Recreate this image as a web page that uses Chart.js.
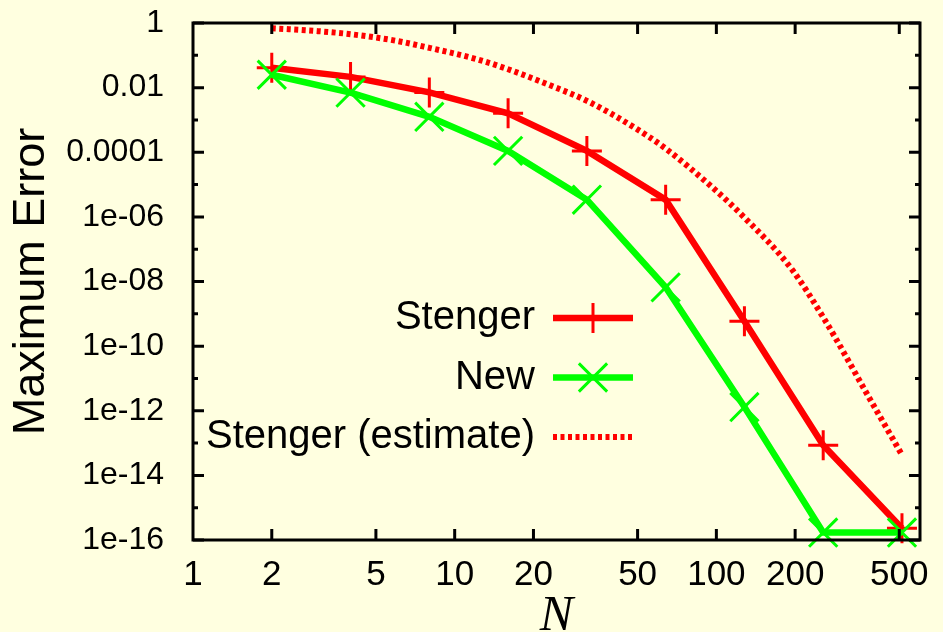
<!DOCTYPE html>
<html>
<head>
<meta charset="utf-8">
<script src="https://cdn.jsdelivr.net/npm/chart.js@4.4.1/dist/chart.umd.min.js"></script>
<style>
  html, body { margin: 0; padding: 0; background: #ffffe0; }
</style>
</head>
<body>
<canvas id="error-chart" width="943" height="632"></canvas>
<script>
// values
const nValues = [2, 4, 8, 16, 32, 64, 128, 256, 512];
const stengerError = [0.041, 0.0215, 0.0071, 0.0016, 1.1e-4, 3.4e-6, 5.9e-10, 8.5e-14, 2.3e-16];
const newError = [0.025, 0.007, 1.25e-3, 1.1e-4, 3.4e-6, 6.6e-9, 1.3e-12, 1.7e-16, 1.7e-16];
const estimateN = [2, 3, 4, 6, 8, 12, 16, 24, 32, 48, 64, 96, 128, 192, 256, 384, 512];
const estimateError = [0.69, 0.56, 0.45, 0.28, 0.17, 0.078, 0.037, 0.0105, 0.0039, 6.2e-4, 1.3e-4,
                       8.5e-6, 9.5e-7, 2.7e-8, 7.8e-10, 2.5e-12, 4.3e-14];

const xTicks = [1, 2, 5, 10, 20, 50, 100, 200, 500];
const yTicks = [1e-16, 1e-15, 1e-14, 1e-13, 1e-12, 1e-11, 1e-10, 1e-9, 1e-8,
                1e-7, 1e-6, 1e-5, 1e-4, 1e-3, 1e-2, 1e-1, 1];
const yTickLabels = ['1e-16', '', '1e-14', '', '1e-12', '', '1e-10', '', '1e-08',
                     '', '1e-06', '', '0.0001', '', '0.01', '', '1'];

const toPoints = (xs, ys) => xs.map((x, i) => ({x: x, y: ys[i]}));

Chart.defaults.font.family = '"Liberation Sans", Arial, sans-serif';
Chart.defaults.color = '#000';

// inward ticks on all four sides plus the frame
const frameTicks = {
  id: 'frameTicks',
  afterDatasetsDraw(chart) {
    const {ctx, chartArea: a, scales: {x, y}} = chart;
    ctx.save();
    ctx.strokeStyle = '#000';
    ctx.lineWidth = 3;
    ctx.beginPath();
    xTicks.forEach(v => {
      if (v <= x.min) return;
      const px = x.getPixelForValue(v);
      ctx.moveTo(px, a.bottom); ctx.lineTo(px, a.bottom - 11);
      ctx.moveTo(px, a.top); ctx.lineTo(px, a.top + 11);
    });
    yTicks.forEach((v, i) => {
      const len = yTickLabels[i] ? 11 : 5;
      const py = y.getPixelForValue(v);
      ctx.moveTo(a.left, py); ctx.lineTo(a.left + len, py);
      ctx.moveTo(a.right, py); ctx.lineTo(a.right - len, py);
    });
    ctx.stroke();
    ctx.strokeRect(a.left, a.top, a.right - a.left, a.bottom - a.top);
    ctx.restore();
  }
};

// gnuplot style key: text right aligned, sample after it
const innerLegend = {
  id: 'innerLegend',
  afterDraw(chart) {
    const ctx = chart.ctx;
    ctx.save();
    ctx.font = '40px "Liberation Sans", Arial, sans-serif';
    ctx.textAlign = 'right';
    ctx.textBaseline = 'middle';
    chart.data.datasets.forEach((ds, i) => {
      const yy = 318 + i * 59.5;
      ctx.fillStyle = '#000';
      ctx.fillText(ds.label, 535, yy);
      ctx.strokeStyle = ds.borderColor;
      ctx.lineWidth = ds.borderWidth;
      ctx.setLineDash(ds.borderDash || []);
      ctx.beginPath();
      ctx.moveTo(553, yy);
      ctx.lineTo(633, yy);
      ctx.stroke();
      ctx.setLineDash([]);
      if (ds.pointRadius) {
        ctx.strokeStyle = ds.pointBorderColor;
        ctx.lineWidth = ds.pointBorderWidth;
        Chart.helpers.drawPoint(ctx, {
          pointStyle: ds.pointStyle, radius: ds.pointRadius,
          borderWidth: ds.pointBorderWidth, rotation: 0
        }, 593, yy);
      }
    });
    ctx.restore();
  }
};

new Chart(document.getElementById('error-chart'), {
  type: 'line',
  data: {
    datasets: [
      {
        label: 'Stenger',
        data: toPoints(nValues, stengerError),
        borderColor: '#ff0000',
        borderWidth: 6.5,
        pointStyle: 'cross',
        pointRadius: 15,
        pointBorderWidth: 3,
        pointBorderColor: '#ff0000',
        clip: false,
        order: 3
      },
      {
        label: 'New',
        data: toPoints(nValues, newError),
        borderColor: '#00ff00',
        borderWidth: 6.5,
        pointStyle: 'crossRot',
        pointRadius: 20,
        pointBorderWidth: 3,
        pointBorderColor: '#00ff00',
        clip: false,
        order: 2
      },
      {
        label: 'Stenger (estimate)',
        data: toPoints(estimateN, estimateError),
        borderColor: '#ff0000',
        borderWidth: 6,
        borderDash: [4, 3.5],
        cubicInterpolationMode: 'monotone',
        pointRadius: 0,
        order: 1
      }
    ]
  },
  options: {
    responsive: false,
    animation: false,
    layout: { padding: { top: 22, right: 20, left: 0, bottom: 0 } },
    plugins: {
      legend: { display: false },
      tooltip: { enabled: false }
    },
    scales: {
      x: {
        type: 'logarithmic',
        min: 1,
        max: 600,
        grid: { display: false },
        border: { display: false },
        afterBuildTicks: scale => { scale.ticks = xTicks.map(v => ({value: v})); },
        afterFit: scale => { scale.height = 92; scale.paddingLeft = 0; scale.paddingRight = 0; },
        ticks: {
          autoSkip: false,
          maxRotation: 0,
          padding: 10,
          font: { size: 35, lineHeight: 1 },
          callback: value => String(value)
        },
        title: {
          display: true,
          text: 'N',
          font: { family: '"Liberation Serif", "Times New Roman", serif', style: 'italic', size: 50, lineHeight: 1 },
          padding: { top: 0, bottom: -10 }
        }
      },
      y: {
        type: 'logarithmic',
        min: 1e-16,
        max: 1,
        grid: { display: false },
        border: { display: false },
        afterBuildTicks: scale => { scale.ticks = yTicks.map(v => ({value: v})); },
        afterFit: scale => { scale.width = 193; scale.paddingTop = 0; scale.paddingBottom = 0; },
        ticks: {
          autoSkip: false,
          padding: 21,
          font: { size: 32, lineHeight: 1 },
          callback: (value, index) => yTickLabels[index]
        },
        title: {
          display: true,
          text: 'Maximum Error',
          font: { size: 45, lineHeight: 1 },
          padding: { top: 9, bottom: 0 }
        }
      }
    }
  },
  plugins: [frameTicks, innerLegend]
});
</script>
</body>
</html>
